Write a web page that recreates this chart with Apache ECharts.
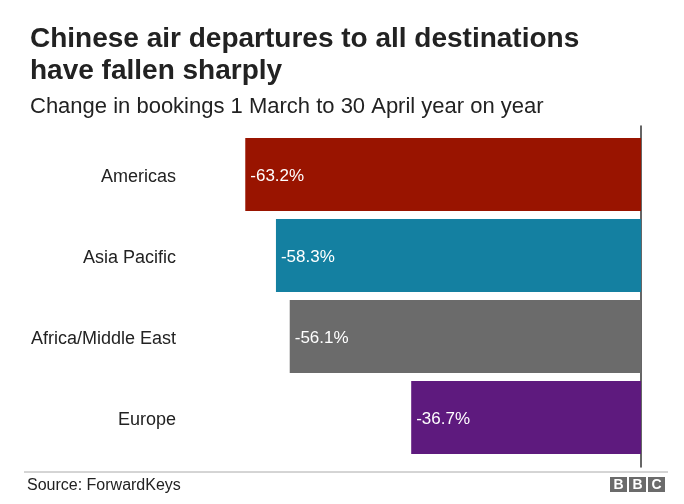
<!DOCTYPE html>
<html>
<head>
<meta charset="utf-8">
<script src="https://cdn.jsdelivr.net/npm/echarts@6/dist/echarts.min.js"></script>
<style>html,body{margin:0;padding:0;background:#fff}#c{width:684px;height:504px}</style>
</head>
<body>
<div id="c"></div>
<script>
const categories = ['Americas', 'Asia Pacific', 'Africa/Middle East', 'Europe'];
const values = [-63.2, -58.3, -56.1, -36.7];
const colors = ['#991400', '#1480A1', '#6B6B6B', '#5E1A7E'];

const FONT = 'Liberation Sans, Arial, Helvetica, sans-serif';
const chart = echarts.init(document.getElementById('c'), null, {renderer: 'canvas'});
const option = {
  backgroundColor: '#fff',
  animation: false,
  title: [{
    text: 'Chinese air departures to all destinations\nhave fallen sharply',
    left: 25, top: 18,
    textStyle: {fontFamily: FONT, fontSize: 28, fontWeight: 'bold', color: '#222', lineHeight: 32}
  }, {
    text: 'Change in bookings 1 March to 30 April year on year',
    left: 25, top: 91,
    textStyle: {fontFamily: FONT, fontSize: 22, fontWeight: 'normal', color: '#222'}
  }],
  grid: [
    {left: 234, right: 43, top: 134, bottom: 46},
    {left: 234, right: 43, top: 126, bottom: 37}
  ],
  xAxis: [
    {type: 'value', min: -65, max: 0, show: false, gridIndex: 0},
    {type: 'value', min: -65, max: 0, show: false, gridIndex: 1}
  ],
  yAxis: [
    {
      type: 'category', data: categories, inverse: true, gridIndex: 0,
      axisLine: {show: false}, axisTick: {show: false},
      axisLabel: {
        margin: 58,
        formatter: v => '{a|' + v + '}',
        rich: {a: {fontFamily: FONT, fontSize: 18, color: '#222', padding: [5, 0, 0, 0]}}
      }
    },
    {
      type: 'value', gridIndex: 1, position: 'right',
      axisLine: {show: true, lineStyle: {color: '#333', width: 1.5}},
      axisTick: {show: false}, axisLabel: {show: false}, splitLine: {show: false}
    }
  ],
  series: [{
    type: 'bar',
    xAxisIndex: 0, yAxisIndex: 0,
    barCategoryGap: '10%',
    data: values.map((v, i) => ({value: v, itemStyle: {color: colors[i]}})),
    label: {
      show: true, position: 'insideLeft', distance: 5, offset: [0, 2],
      formatter: p => p.value + '%',
      fontFamily: FONT, fontSize: 17, color: '#fff'
    }
  }],
  graphic: [
    {type: 'line', shape: {x1: 24, y1: 472, x2: 668, y2: 472}, style: {stroke: '#aaa', lineWidth: 1}},
    {type: 'text', left: 27, top: 478, style: {text: 'Source: ForwardKeys', font: '16px ' + FONT, fill: '#222'}},
    {type: 'group', left: 610, top: 477, children: [
      {type: 'rect', shape: {x: 0, y: 0, width: 17, height: 15}, style: {fill: '#6b6b6b'}},
      {type: 'rect', shape: {x: 19, y: 0, width: 17, height: 15}, style: {fill: '#6b6b6b'}},
      {type: 'rect', shape: {x: 38, y: 0, width: 17, height: 15}, style: {fill: '#6b6b6b'}},
      {type: 'text', x: 8.5, y: 8, style: {text: 'B', font: 'bold 14px ' + FONT, fill: '#fff', align: 'center', verticalAlign: 'middle'}},
      {type: 'text', x: 27.5, y: 8, style: {text: 'B', font: 'bold 14px ' + FONT, fill: '#fff', align: 'center', verticalAlign: 'middle'}},
      {type: 'text', x: 46.5, y: 8, style: {text: 'C', font: 'bold 14px ' + FONT, fill: '#fff', align: 'center', verticalAlign: 'middle'}}
    ]}
  ]
};
chart.setOption(option);
</script>
</body>
</html>
